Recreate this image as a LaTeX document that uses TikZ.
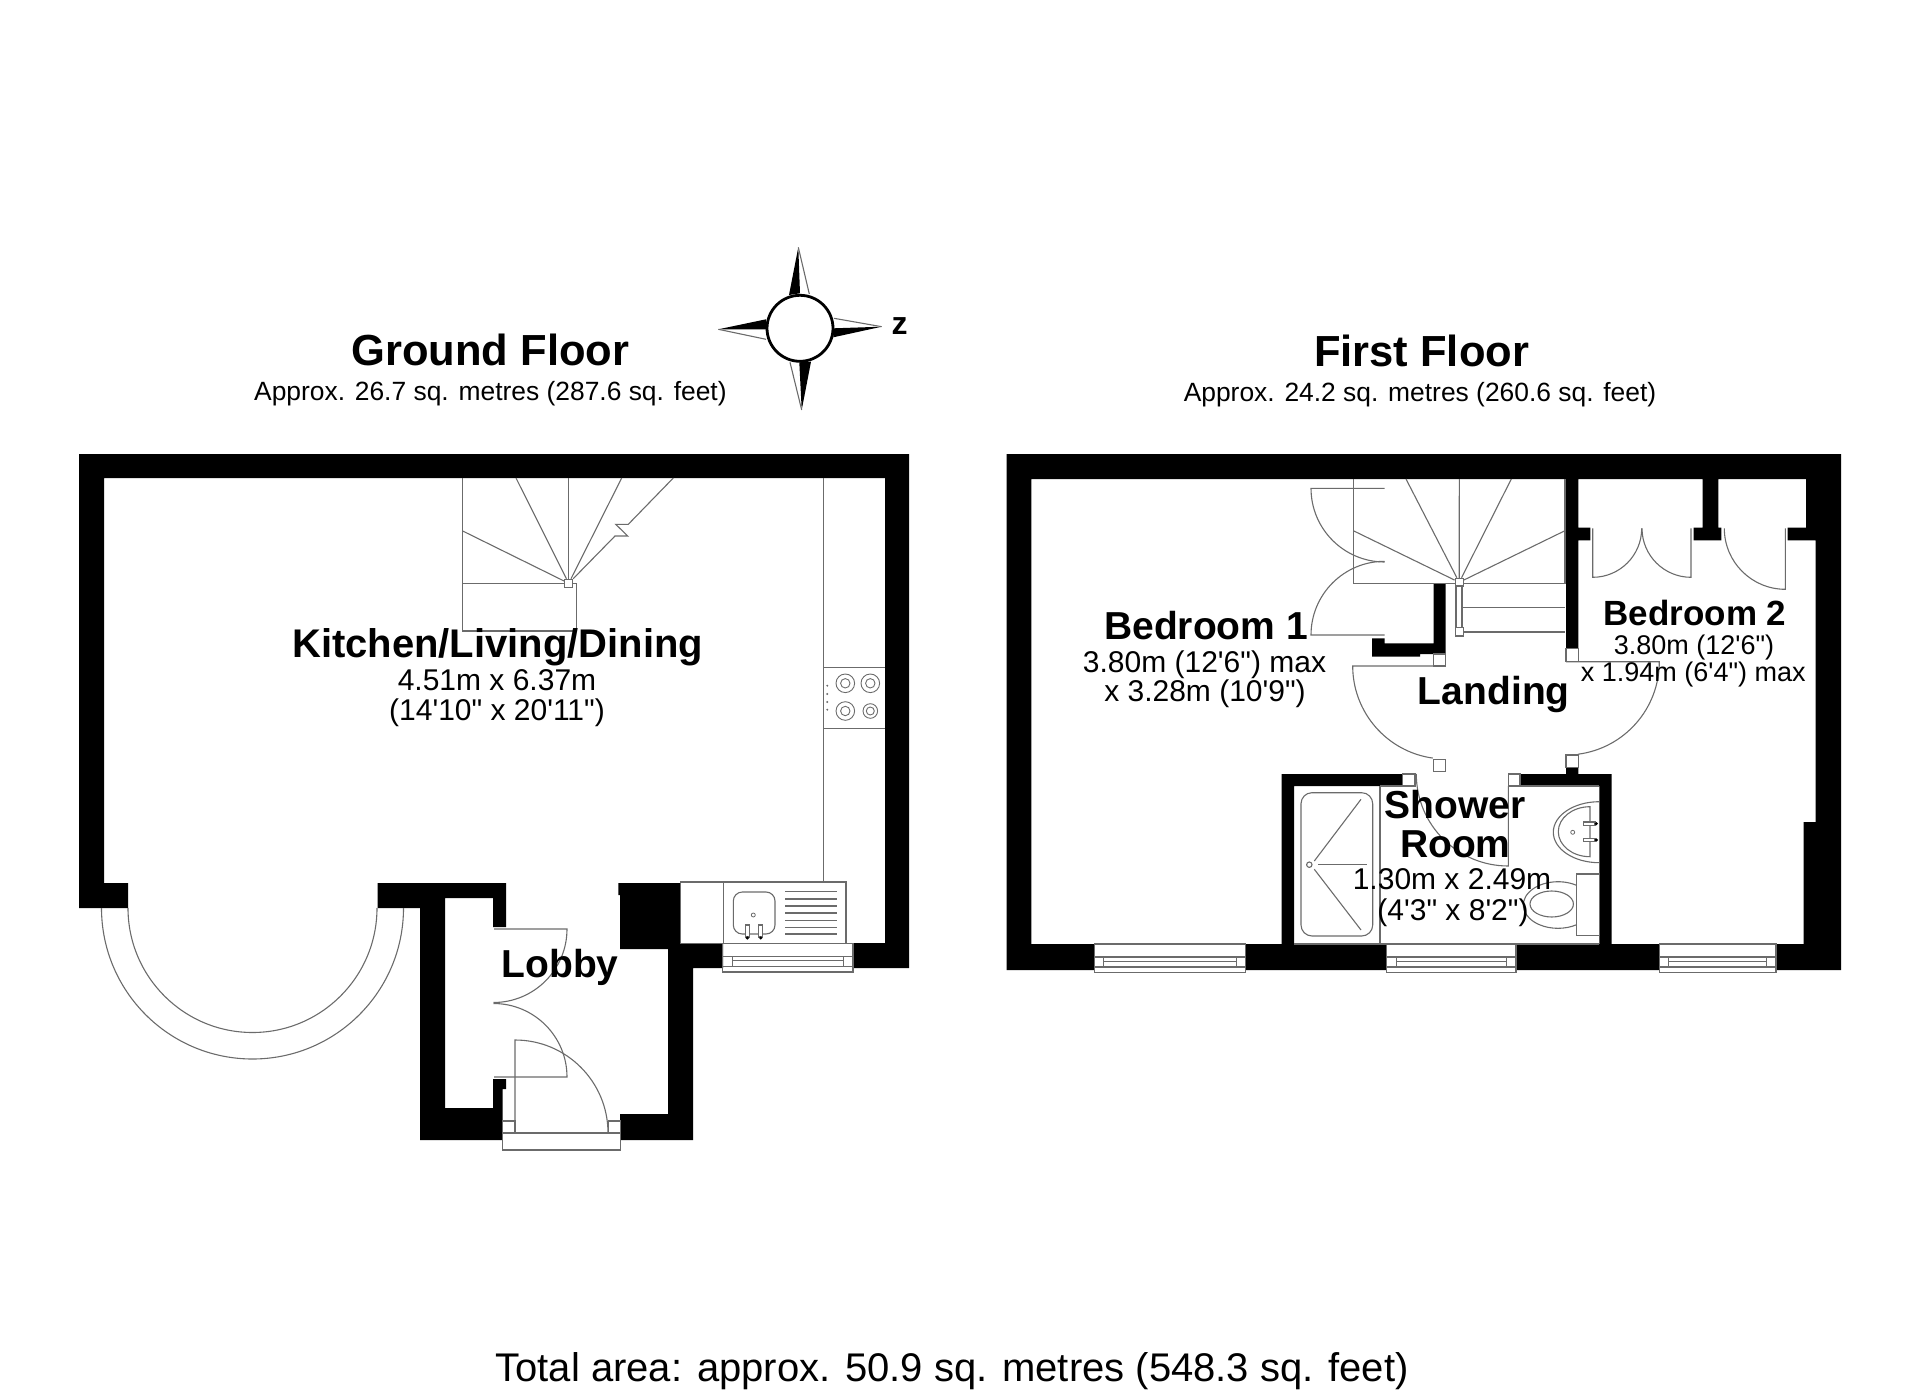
\documentclass[tikz,border=0pt]{standalone}
\usepackage{fontspec}
\setmainfont{Liberation Sans}[Ligatures=TeXOff]
\definecolor{fitgray}{gray}{0.42}
\tikzset{
  wall/.style={fill=black},
  fitting/.style={draw=fitgray,line width=1.1pt},
  roomname/.style={anchor=base,inner sep=0pt,font=\bfseries\fontsize{39}{39}\selectfont},
  roomsize/.style={anchor=base,inner sep=0pt,font=\fontsize{30}{30}\selectfont},
  bedsize/.style={anchor=base,inner sep=0pt,font=\fontsize{27}{27}\selectfont},
  floorname/.style={anchor=base,inner sep=0pt,font=\bfseries\fontsize{43.5}{43.5}\selectfont},
  floorarea/.style={anchor=base,inner sep=0pt,font=\fontsize{26.4}{26.4}\selectfont}
}
\begin{document}
\begin{tikzpicture}
  [x=1pt,y=-1pt]
  \useasboundingbox (0,0) rectangle (1920,1396);
  % ground floor walls
  \fill[wall] (79,454) -- (909,454) -- (909,968) -- (853,968) -- (853,943) -- (885,943) -- (885,478)
    -- (104,478) -- (104,883) -- (128,883) -- (128,908) -- (79,908) -- cycle;
  \fill[wall] (377.5,883) -- (506,883) -- (506,927) -- (493,927) -- (493,898) -- (445,898) -- (445,1108)
    -- (493,1108) -- (493,1079) -- (506,1079) -- (506,1089) -- (502.7,1089) -- (502.7,1140)
    -- (420,1140) -- (420,908) -- (377.5,908) -- cycle;
  \fill[wall] (618.3,883) -- (680.7,883) -- (680.7,943) -- (723,943) -- (723,968) -- (693,968) -- (693,1140)
    -- (620,1140) -- (620,1114) -- (668,1114) -- (668,949) -- (620,949) -- (620,895) -- (618.3,895) -- cycle;
  % first floor walls
  \fill[wall] (1006.7,454) -- (1841,454) -- (1841,970) -- (1776,970) -- (1776,944) -- (1803.6,944)
    -- (1803.6,822) -- (1815.7,822) -- (1815.7,540.3) -- (1787.7,540.3) -- (1787.7,527.7) -- (1806,527.7)
    -- (1806,479) -- (1718.3,479) -- (1718.3,527.7) -- (1721.3,527.7) -- (1721.3,540.3) -- (1693.7,540.3)
    -- (1693.7,527.7) -- (1702.7,527.7) -- (1702.7,479) -- (1578.3,479) -- (1578.3,527.7) -- (1590.3,527.7)
    -- (1590.3,540.3) -- (1578.3,540.3) -- (1578.3,648.7) -- (1566,648.7) -- (1566,479) -- (1031.4,479)
    -- (1031.4,944) -- (1094.3,944) -- (1094.3,970) -- (1006.7,970) -- cycle;
  \fill[wall] (1281.7,774) -- (1402.7,774) -- (1402.7,786) -- (1294,786) -- (1294,944) -- (1386.7,944)
    -- (1386.7,970) -- (1245.8,970) -- (1245.8,944) -- (1281.7,944) -- cycle;
  \fill[wall] (1520,774) -- (1566,774) -- (1566,767.3) -- (1578.3,767.3) -- (1578.3,774) -- (1611.7,774)
    -- (1611.7,944) -- (1659.4,944) -- (1659.4,970) -- (1516,970) -- (1516,944) -- (1599.3,944)
    -- (1599.3,786) -- (1520,786) -- cycle;
  \fill[wall] (1433.7,583.3) -- (1445.7,583.3) -- (1445.7,654) -- (1420,654) -- (1420,656.7) -- (1372,656.7)
    -- (1372,638.3) -- (1384.7,638.3) -- (1384.7,643.3) -- (1433.7,643.3) -- cycle;
  % windows
  \foreach \xa/\xb/\ya in {722.7/853/943.3,1094.3/1245.8/944,1386.7/1516/944,1659.4/1776/944} {
    \draw[fitting] (\xa,\ya) rectangle (\xb,\ya+28.7);
    \draw[fitting] (\xa,\ya+13) -- (\xb,\ya+13);
    \draw[fitting] (\xa,\ya+23) -- (\xb,\ya+23);
    \draw[fitting] (\xa+9.5,\ya+13) rectangle (\xb-9.5,\ya+23);
    \draw[fitting] (\xa+9.5,\ya+17.3) -- (\xb-9.5,\ya+17.3);
  }
  % bay
  \draw[fitting] (128,908) arc[start angle=180,end angle=0,radius=124.5];
  \draw[fitting] (101.5,908) arc[start angle=180,end angle=0,radius=151];
  % lobby doors and entrance
  \draw[fitting] (494,929) -- (567,929) arc[start angle=0,end angle=90,radius=73.5];
  \draw[fitting] (494,1077) -- (567,1077) arc[start angle=0,end angle=-90,radius=73.5];
  \draw[fitting] (515,1133) -- (515,1040) arc[start angle=-90,end angle=0,radius=93];
  \draw[fitting] (502.7,1133) rectangle (620.7,1150);
  \draw[fitting] (502.7,1121) rectangle (515,1133);
  \draw[fitting] (608.3,1121) rectangle (620.7,1133);
  % ground floor stairs
  \draw[fitting] (462.7,478) -- (462.7,631) -- (576.7,631) -- (576.7,583.3) -- (572.7,583.3);
  \draw[fitting] (462.7,583.3) -- (564.7,583.3);
  \node[fitting,draw,fill=white,minimum size=8pt,inner sep=0pt] (newelg) at (568.7,583.3) {};
  \foreach \xe/\ye in {462.7/531,516/478,568.7/478,621.7/478}
    \draw[fitting] (newelg) -- (\xe,\ye);
  \draw[fitting] (newelg) -- (615,536) -- (627.7,536) -- (615.7,524.3) -- (628.3,524.3) -- (673.3,478);
  % kitchen units
  \draw[fitting] (823.3,478) -- (823.3,882);
  \draw[fitting] (823.3,667.3) -- (885,667.3);
  \draw[fitting] (823.3,728.3) -- (885,728.3);
  \foreach \xh/\yh/\ra/\rb in {845.3/683.3/9.3/4.7,870.3/683.3/9.3/4.7,845.3/711/9.3/4.7,870.3/711/7.3/4} {
    \draw[fitting,line width=.9pt] (\xh,\yh) circle[radius=\ra];
    \draw[fitting,line width=.9pt] (\xh,\yh) circle[radius=\rb];
  }
  \foreach \yd in {685.7,694,702,709.7}
    \fill[fitgray] (827.3,\yd) circle[radius=1.1];
  \draw[fitting] (680.7,882) rectangle (846,943.3);
  \draw[fitting] (723.3,882) -- (723.3,943.3);
  \draw[fitting,rounded corners=9pt] (733.3,892) rectangle (775,934);
  \draw[fitting,line width=.8pt] (753.3,915) circle[radius=2];
  \foreach \xt in {745.3,758.7} {
    \draw[fitting,fill=white] (\xt,925) rectangle (\xt+4,937);
    \fill[black] (\xt+2,938) circle[radius=1.7];
  }
  \foreach \yd in {891.7,899,906,913,920.3,927.3,934}
    \draw[fitting] (785,\yd) -- (836.7,\yd);
  % first floor stairs
  \draw[fitting] (1353.3,479) -- (1353.3,583.3) -- (1455,583.3);
  \draw[fitting] (1463,583.3) -- (1565,583.3) -- (1565,479);
  \draw[fitting] (1463.3,607.3) -- (1565,607.3);
  \draw[fitting] (1463.3,632) -- (1565,632);
  \node[fitting,draw,fill=white,minimum size=8pt,inner sep=0pt] (newelf) at (1459.2,582.3) {};
  \node[fitting,draw,fill=white,minimum size=8.3pt,inner sep=0pt] (newelb) at (1459.2,631.8) {};
  \draw[fitting] (1456,586) rectangle (1462,627.7);
  \foreach \xe/\ye in {1353.3/530.7,1406/479,1459.3/479,1511.3/479,1565/530.7}
    \draw[fitting] (newelf) -- (\xe,\ye);
  % bedroom 1 wardrobe and door
  \draw[fitting] (1384.7,488.3) -- (1311,488.3) arc[start angle=180,end angle=90,radius=73.7];
  \draw[fitting] (1384.7,635) -- (1311,635) arc[start angle=180,end angle=270,radius=73.7];
  \draw[fitting] (1433.7,654) rectangle (1445.7,666);
  \draw[fitting] (1433.7,759.3) rectangle (1445.7,771.7);
  \draw[fitting] (1445.7,666) -- (1352.7,666) arc[start angle=180,end angle=98,radius=93];
  % bedroom 2 door and cupboards
  \draw[fitting] (1566,648.7) rectangle (1578.3,661.7);
  \draw[fitting] (1566,755) rectangle (1578.3,767.3);
  \draw[fitting] (1566,661.7) -- (1659.3,661.7) arc[start angle=0,end angle=82.6,radius=93.3];
  \draw[fitting] (1592.7,528.3) -- (1592.7,577.3) arc[start angle=90,end angle=0,radius=49];
  \draw[fitting] (1691,528.3) -- (1691,577.3) arc[start angle=90,end angle=180,radius=49];
  \draw[fitting] (1785.3,528.3) -- (1785.3,589.3) arc[start angle=90,end angle=180,radius=61];
  % shower room
  \draw[fitting] (1402.7,774) rectangle (1415,786);
  \draw[fitting] (1508.3,774) rectangle (1520,786);
  \draw[fitting] (1380,786) -- (1380,944);
  \draw[fitting] (1380,786) -- (1402.7,786);
  \draw[fitting] (1520,786) -- (1599.3,786);
  \draw[fitting] (1294,944) -- (1386.7,944);
  \draw[fitting] (1516,944) -- (1599.3,944);
  \draw[fitting,rounded corners=11pt] (1301,792.7) rectangle (1372.7,936);
  \draw[fitting] (1309.3,864.7) circle[radius=2.7];
  \draw[fitting] (1318.3,864.7) -- (1366.7,864.7);
  \draw[fitting] (1314.3,861) -- (1361,799.3);
  \draw[fitting] (1314.3,869.3) -- (1361,930);
  \draw[fitting] (1508.3,786) -- (1508.3,866) arc[start angle=90,end angle=180,radius=92];
  \draw[fitting] (1599.3,801.7) arc[start angle=270,end angle=90,x radius=46,y radius=30.5];
  \draw[fitting] (1590,806.7) arc[start angle=270,end angle=90,x radius=31.7,y radius=25] -- cycle;
  \draw[fitting,line width=.8pt] (1572.7,832.3) circle[radius=2];
  \foreach \yt in {822,838.3} {
    \draw[fitting,fill=white] (1583.3,\yt) rectangle (1595,\yt+3.4);
    \fill[black] (1596.3,\yt+1.7) circle[radius=1.7];
  }
  \draw[fitting] (1576.7,874) rectangle (1599.3,935.7);
  \draw[fitting] (1576.7,885.4) arc[start angle=-57.4,end angle=-302.6,x radius=34.7,y radius=23.3];
  \draw[fitting] (1551.7,904) ellipse[x radius=21.7,y radius=13];
  % compass
  \fill[black] (798.3,247.3) -- (789,295) -- (800,293.3) -- cycle;
  \fill[black] (881.7,326.7) -- (833.3,337.3) -- (834,328.3) -- cycle;
  \fill[black] (801.7,410) -- (811,361.7) -- (799.3,362.3) -- cycle;
  \fill[black] (718.3,329.3) -- (766,319.3) -- (766,329.3) -- cycle;
  \draw[fitting] (798.3,247.3) -- (809.3,294);
  \draw[fitting] (881.7,326.7) -- (834,318.3);
  \draw[fitting] (801.7,410) -- (790,362.3);
  \draw[fitting] (718.3,329.3) -- (766,339.3);
  \draw[line width=2.8pt,fill=white] (800,328.3) circle[radius=33];
  \node[anchor=base,inner sep=0pt,font=\bfseries\fontsize{32}{32}\selectfont] (north) at (899.5,335) {z};
  % titles
  \node[floorname] (groundtitle) at (490.4,366) {Ground Floor};
  \node[floorarea] (groundarea) at (490.4,401) {Approx. 26.7 sq. metres (287.6 sq. feet)};
  \node[floorname] (firsttitle) at (1421.6,367) {First Floor};
  \node[floorarea] (firstarea) at (1420,402) {Approx. 24.2 sq. metres (260.6 sq. feet)};
  % rooms
  \node[roomname,font=\bfseries\fontsize{40}{40}\selectfont] (kitchen) at (497.7,657.5) {Kitchen/Living/Dining};
  \node[roomsize] (kitchena) at (497,690) {4.51m x 6.37m};
  \node[roomsize] (kitchenb) at (497,720) {(14'10" x 20'11")};
  \node[roomname] (lobby) at (560,977.3) {Lobby};
  \node[roomname] (bedonename) at (1206,639.3) {Bedroom 1};
  \node[roomsize] (bedonea) at (1204.5,672) {3.80m (12'6") max};
  \node[roomsize] (bedoneb) at (1205,701.8) {x 3.28m (10'9")};
  \node[roomname] (landing) at (1493.8,704.3) {Landing};
  \node[roomname,font=\bfseries\fontsize{35}{35}\selectfont] (bedtwoname) at (1695,625.7) {Bedroom 2};
  \node[bedsize] (bedtwoa) at (1694,654) {3.80m (12'6")};
  \node[bedsize] (bedtwob) at (1693.3,681.7) {x 1.94m (6'4") max};
  \node[roomname] (showera) at (1455,818.3) {Shower};
  \node[roomname] (showerb) at (1455.3,857.7) {Room};
  \node[roomsize] (showerc) at (1452,889.3) {1.30m x 2.49m};
  \node[roomsize] (showerd) at (1453,920) {(4'3" x 8'2")};
  % total
  \node[anchor=base,inner sep=0pt,font=\fontsize{40}{40}\selectfont] (total) at (952,1381) {Total area: approx. 50.9 sq. metres (548.3 sq. feet)};
\end{tikzpicture}
\end{document}
